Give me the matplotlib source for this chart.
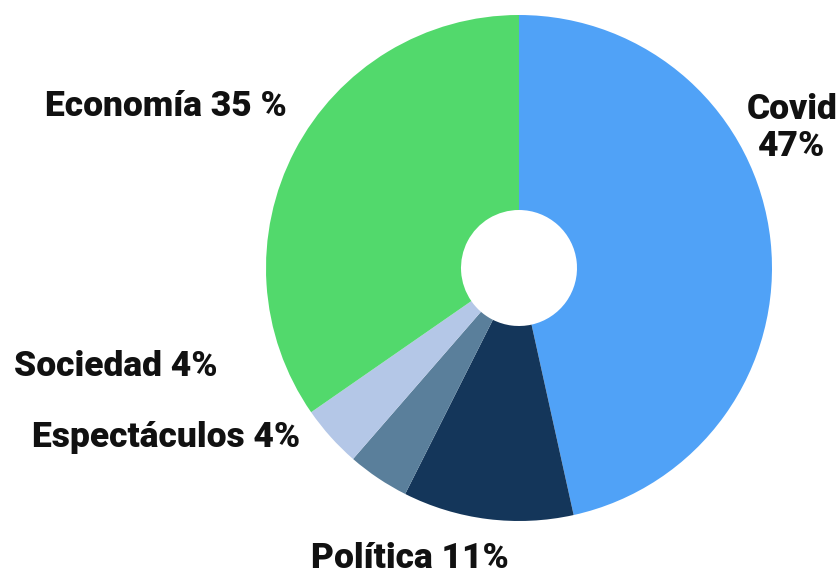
import matplotlib
matplotlib.use("Agg")
import matplotlib.pyplot as plt

# Topic share of news coverage (percent)
categories = ["Covid", "Política", "Espectáculos", "Sociedad", "Economía"]
shares = [47, 11, 4, 4, 35]
label_texts = ["Covid\n47%", "Política 11%", "Espectáculos 4%", "Sociedad 4%", "Economía 35 %"]

colors = ["#50A2F7", "#14365A", "#5A7F9B", "#B4C7E7", "#52D96C"]
# label anchor points in pixel-sized axes units (y measured upward)
label_pos = [(792, 447), (410, 16), (166, 138), (116, 208), (166, 468)]

W, H = 840, 575
fig = plt.figure(figsize=(W / 100, H / 100), dpi=100)
ax = fig.add_axes([0, 0, 1, 1])

center = (519, 307)
r_out, r_in = 253, 58
ax.pie(shares, colors=colors, startangle=90, counterclock=False,
       center=center, radius=r_out, frame=True,
       wedgeprops=dict(width=r_out - r_in, linewidth=0))
ax.set_xlim(0, W)
ax.set_ylim(0, H)
ax.set_aspect("equal")
ax.axis("off")

for txt, (x, y) in zip(label_texts, label_pos):
    ax.text(x, y, txt, ha="center", va="center", fontsize=25.5,
            fontweight="heavy", family="Roboto", color="#111111",
            linespacing=1.15)

fig.savefig("out.png", dpi=100)
